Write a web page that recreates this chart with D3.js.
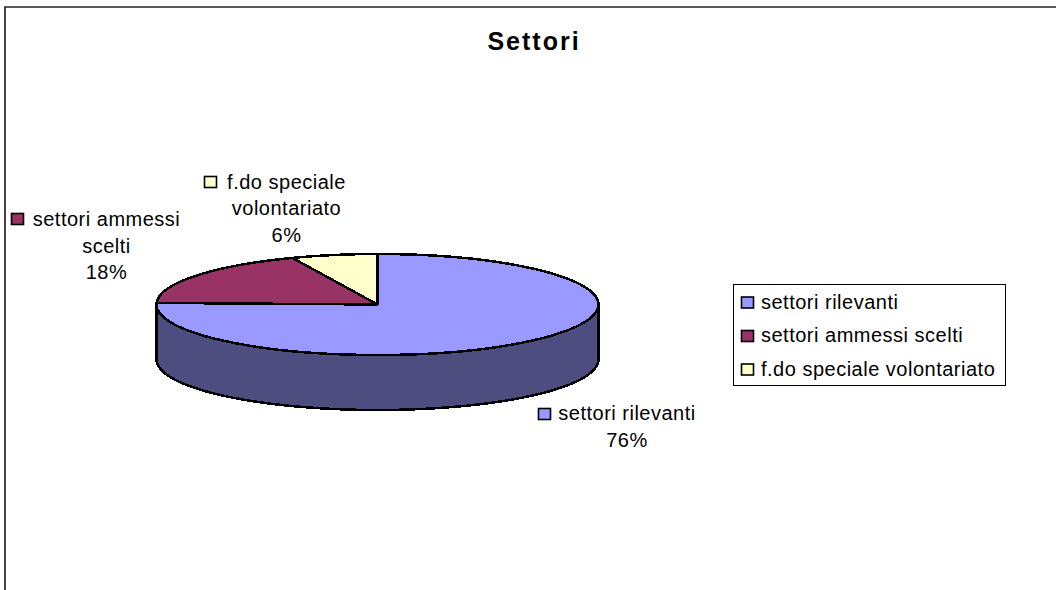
<!DOCTYPE html>
<html>
<head>
<meta charset="utf-8">
<script src="https://cdn.jsdelivr.net/npm/d3@7"></script>
<style>
  html, body { margin: 0; padding: 0; background: #fff; }
  svg { display: block; }
  text { font-family: "Liberation Sans", Arial, sans-serif; fill: #000; }
</style>
</head>
<body>
<div id="chart"></div>
<script>
// data
var categories = ["settori rilevanti", "settori ammessi scelti", "f.do speciale volontariato"];
var values = [75.5, 18.2, 6.3];
var topColors = ["#9999ff", "#993366", "#ffffcc"];
var labelLines = [["settori rilevanti"], ["settori ammessi", "scelti"], ["f.do speciale", "volontariato"]];

var svgWidth = 1056;
var svgHeight = 590;

var cx = 377.5, cy = 304.5, rx = 221, ry = 50.5, depth = 55;

var svg = d3.select("#chart")
  .append("svg")
  .attr("width", svgWidth)
  .attr("height", svgHeight);

// chart frame, only top and left show up in the picture
svg.append("path")
  .attr("d", "M5,590V7H1056")
  .attr("fill", "none")
  .attr("stroke", "#222")
  .attr("stroke-width", 1.7);

svg.append("text")
  .attr("x", 534)
  .attr("y", 50)
  .attr("text-anchor", "middle")
  .attr("font-size", 25)
  .attr("font-weight", "bold")
  .attr("letter-spacing", 2)
  .text("Settori");

var pie = d3.pie().sort(null).value(function(d) { return d; });
var slices = pie(values);

// side wall of the pie, front half of the ellipse
var wallAngles = d3.range(0, 181, 3);
var xScale = d3.scaleLinear().domain([-1, 1]).range([cx - rx, cx + rx]);
var yScale = d3.scaleLinear().domain([-1, 1]).range([cy - ry, cy + ry]);
var wall = d3.area()
  .x(function(a) { return xScale(Math.cos(a * Math.PI / 180)); })
  .y0(function(a) { return yScale(Math.sin(a * Math.PI / 180)); })
  .y1(function(a) { return yScale(Math.sin(a * Math.PI / 180)) + depth; });

svg.append("path")
  .attr("d", wall(wallAngles))
  .attr("fill", "#4d4d80")
  .attr("stroke", "#000")
  .attr("stroke-width", 2.5)
  .attr("stroke-linejoin", "round")
  .attr("shape-rendering", "crispEdges");

// top face, d3.arc squeezed into an ellipse
var arc = d3.arc().innerRadius(0).outerRadius(rx);
var topGroup = svg.append("g")
  .attr("transform", "translate(" + cx + "," + cy + ") scale(1," + (ry / rx) + ")");

topGroup.selectAll("path")
  .data(slices)
  .enter()
  .append("path")
  .attr("d", arc)
  .attr("fill", function(d, i) { return topColors[i]; })
  .attr("stroke", "#000")
  .attr("stroke-width", 2.5)
  .attr("stroke-linejoin", "round")
  .attr("vector-effect", "non-scaling-stroke")
  .attr("shape-rendering", "crispEdges");

// data labels
var labelPos = [
  {marker: [538, 408], textX: 627, y: 420, pctX: 627, pctY: 447},
  {marker: [11, 213], textX: 106.5, y: 226, pctX: 106.5, pctY: 279},
  {marker: [204, 176], textX: 286.5, y: 188.5, pctX: 286.5, pctY: 242}
];
var fontSize = 20;
var spacing = 0.5;

var labels = svg.selectAll("g.label")
  .data(slices)
  .enter()
  .append("g")
  .attr("class", "label");

labels.append("rect")
  .attr("x", function(d, i) { return labelPos[i].marker[0] + 0.5; })
  .attr("y", function(d, i) { return labelPos[i].marker[1] + 0.5; })
  .attr("width", 12)
  .attr("height", 11)
  .attr("fill", function(d, i) { return topColors[i]; })
  .attr("stroke", "#000")
  .attr("stroke-width", 1.6);

labels.each(function(d, i) {
  var g = d3.select(this);
  labelLines[i].forEach(function(line, j) {
    g.append("text")
      .attr("x", labelPos[i].textX)
      .attr("y", labelPos[i].y + j * 26.5)
      .attr("text-anchor", "middle")
      .attr("font-size", fontSize)
      .attr("letter-spacing", spacing)
      .text(line);
  });
  g.append("text")
    .attr("x", labelPos[i].pctX)
    .attr("y", labelPos[i].pctY)
    .attr("text-anchor", "middle")
    .attr("font-size", fontSize)
    .attr("letter-spacing", spacing)
    .text(Math.round(d.value) + "%");
});

// legend
var legend = svg.append("g");
legend.append("rect")
  .attr("x", 733.5)
  .attr("y", 284.5)
  .attr("width", 272)
  .attr("height", 101)
  .attr("fill", "#fff")
  .attr("stroke", "#000")
  .attr("stroke-width", 1);

var legendY = d3.scalePoint().domain(categories).range([302.5, 369.5]);

var items = legend.selectAll("g.item")
  .data(categories)
  .enter()
  .append("g")
  .attr("class", "item")
  .attr("transform", function(d) { return "translate(0," + legendY(d) + ")"; });

items.append("rect")
  .attr("x", 741.5)
  .attr("y", -5.5)
  .attr("width", 12)
  .attr("height", 11)
  .attr("fill", function(d, i) { return topColors[i]; })
  .attr("stroke", "#000")
  .attr("stroke-width", 1.6);

items.append("text")
  .attr("x", 761)
  .attr("y", 6)
  .attr("font-size", fontSize)
  .attr("letter-spacing", spacing)
  .text(function(d) { return d; });
</script>
</body>
</html>
